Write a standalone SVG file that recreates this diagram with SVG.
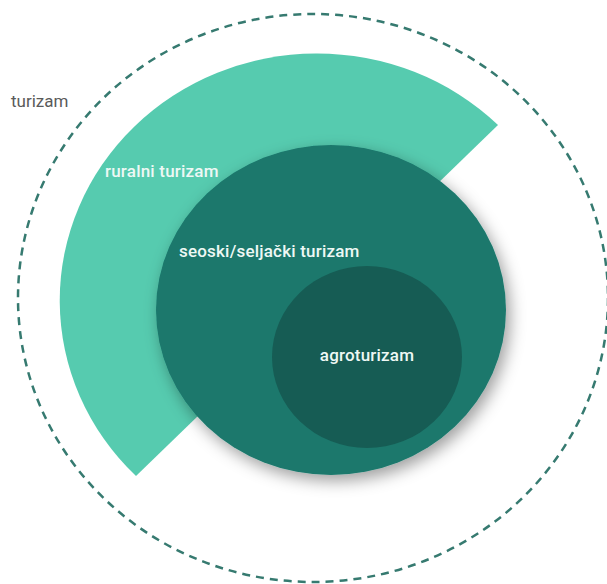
<svg xmlns="http://www.w3.org/2000/svg" width="607" height="584" viewBox="0 0 607 584">
  <defs>
    <filter id="shadow" x="-20%" y="-20%" width="140%" height="140%">
      <feDropShadow dx="4" dy="6" stdDeviation="8" flood-color="#000" flood-opacity="0.38"/>
    </filter>
  </defs>
  <style>
    .lbl { font-family: Roboto, "Liberation Sans", sans-serif; font-size: 17px; font-weight: 500; fill: #eef8f5; letter-spacing: 0.2px; }
    .outer { font-family: Roboto, "Liberation Sans", sans-serif; font-size: 17px; fill: #5a5a5a; }
  </style>
  <rect width="607" height="584" fill="#ffffff"/>
  <g id="turizam">
    <ellipse cx="313" cy="298" rx="295" ry="284" fill="none" stroke="#367a70" stroke-width="2.5" stroke-dasharray="8 6"/>
    <text class="outer" x="11" y="107">turizam</text>
  </g>
  <g id="ruralni">
    <path d="M498 125 A250 240 0 0 0 136 476 Z" fill="#56cbaf"/>
    <text class="lbl" x="105" y="177">ruralni turizam</text>
  </g>
  <g id="seoski">
    <ellipse cx="331" cy="310" rx="175" ry="165" fill="#1b786c" filter="url(#shadow)"/>
    <text class="lbl" x="179" y="257">seoski/seljački turizam</text>
  </g>
  <g id="agroturizam">
    <ellipse cx="367" cy="357" rx="95" ry="91" fill="#165c54"/>
    <text class="lbl" x="367" y="361" text-anchor="middle">agroturizam</text>
  </g>
  <g id="connectors"/>
</svg>
